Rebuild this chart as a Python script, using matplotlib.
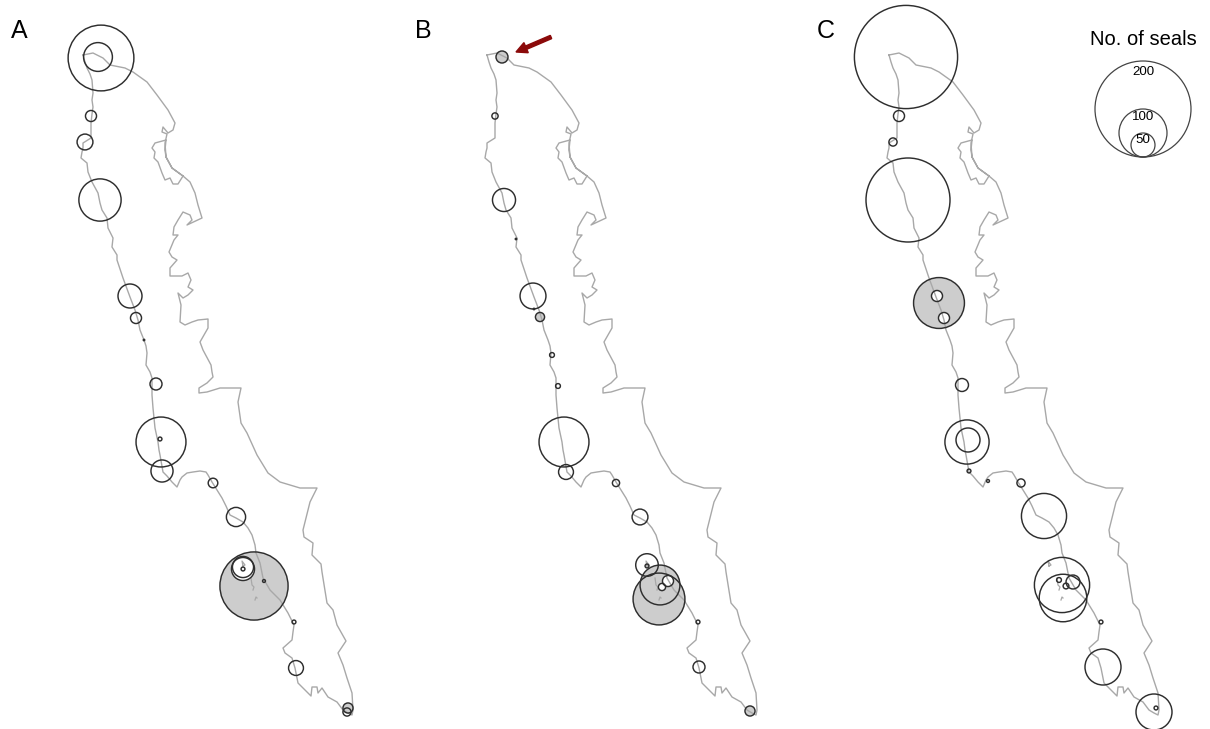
import matplotlib
matplotlib.use('Agg')
import matplotlib.pyplot as plt
from matplotlib.patches import Circle, FancyArrow

plt.rcParams['font.family'] = ['Liberation Sans', 'DejaVu Sans']

# coastline traced in panel A, pixel-like map units
coast_x = [83, 85, 87, 90, 92, 93, 92, 93, 92, 91, 91, 91, 83, 83, 82, 81, 87, 88, 92, 98, 100, 102, 107, 108, 113, 112,
           117, 117, 123, 130, 135, 138, 140, 144, 146, 147, 146, 150, 152, 152, 153, 154, 155, 158, 159, 160,
           163, 167, 172, 177, 180, 182, 187, 193, 200, 206, 208, 212, 217, 222, 226, 230, 236, 243, 248, 252, 255, 256,
           260, 263, 270, 280, 288, 294, 293, 292, 283, 285, 292, 295, 298, 307, 311, 312, 317, 318, 322, 328, 337,
           343, 348, 352, 353, 352, 347, 343, 338, 346, 337, 333, 327, 322, 321, 312, 313, 304, 303, 305,
           310, 317, 300, 280, 268, 257, 247, 241, 238, 241, 220, 207, 199, 199, 207, 213, 212, 211, 203, 200, 204, 208,
           208, 198, 192, 185, 180, 181, 178, 183, 188, 193, 188, 191, 188, 182, 170, 170, 177, 172, 169, 174, 178, 173,
           174, 178, 183, 190, 192, 187, 202, 198, 195, 190, 183, 178, 173, 170, 165, 162, 158, 154, 155, 152, 155, 166,
           165, 166, 172, 183, 172, 166, 165, 167, 162, 163, 168, 173, 175, 168, 157, 147, 133, 125, 110, 103, 93, 83]
coast_y = [55, 62, 68, 74, 80, 93, 100, 107, 114, 123, 130, 138, 143, 148, 152, 158, 163, 172, 182, 193, 203, 210, 218, 228,
           238, 247, 255, 260, 278, 297, 310, 320, 330, 340, 346, 353, 365, 372, 378, 395, 408, 418, 428, 442,
           450, 455, 472, 476, 482, 487, 480, 477, 473, 472, 471, 472, 475, 482, 490, 498, 506, 515, 518, 522, 528, 535,
           545, 553, 563, 578, 590, 600, 613, 625, 632, 640, 648, 653, 658, 668, 683, 692, 696, 687, 687, 693, 688, 697,
           702, 710, 713, 715, 710, 693, 678, 665, 653, 641, 625, 610, 603, 572, 564, 555, 543, 537,
           530, 522, 502, 488, 488, 482, 473, 455, 433, 423, 402, 388, 388, 392, 393, 388, 383, 377, 372, 365, 350, 342, 335,
           328, 319, 320, 322, 325, 322, 305, 293, 298, 295, 290, 287, 280, 273, 276, 276, 268, 260, 257, 252, 240, 235, 235,
           227, 220, 212, 215, 220, 225, 218, 205, 193, 182, 176, 184, 184, 178, 180, 173, 162, 158, 152, 148, 143, 140,
           150, 157, 168, 176, 168, 157, 143, 134, 132, 127, 133, 130, 123, 110, 95, 82, 72, 68, 65, 58, 53, 55]
island_x = [[243, 242, 245, 243], [251, 252, 254, 253], [255, 256, 257]]
island_y = [[566, 561, 565, 566], [578, 585, 587, 590], [600, 597, 598]]

# sites per panel: map position and number of seals
a_x = [101, 98, 91, 85, 100, 130, 136, 144, 156, 161, 160, 162, 213, 236, 254, 243, 243, 243, 264, 294, 296, 348, 347]
a_y = [58, 57, 116, 142, 200, 296, 318, 340, 384, 442, 439, 471, 483, 517, 586, 569, 567, 569, 581, 622, 668, 708, 712]
a_seals = [137, 60, 23, 33, 88, 50, 23, 3, 25, 104, 8, 46, 20, 40, 142, 48, 44, 8, 6, 8, 31, 21, 17]
a_grey = [14, 21]
a_white = [15, 16, 17]

b_x = [502, 495, 504, 533, 540, 552, 558, 564, 566, 616, 640, 647, 647, 659, 660, 668, 662, 698, 699, 750, 516, 534]
b_y = [57, 116, 200, 296, 317, 355, 386, 442, 472, 483, 517, 565, 566, 599, 585, 581, 587, 622, 667, 711, 239, 309]
b_seals = [25, 13, 48, 54, 19, 10, 10, 104, 31, 15, 33, 47, 8, 108, 83, 23, 15, 8, 25, 21, 3, 3]
b_grey = [0, 4, 13, 14, 19]
b_white = [15, 16]

c_x = [906, 899, 893, 908, 939, 937, 944, 962, 967, 968, 969, 988, 1021, 1044, 1062, 1063, 1073, 1066, 1059, 1101, 1103, 1154, 1156]
c_y = [57, 116, 142, 200, 303, 296, 318, 385, 442, 440, 471, 481, 483, 516, 585, 598, 582, 586, 580, 622, 667, 712, 708]
c_seals = [215, 23, 17, 175, 106, 23, 23, 27, 92, 50, 8, 6, 17, 94, 115, 99, 29, 12, 10, 8, 75, 75, 8]
c_grey = [4]
c_white = [5, 6]

panel_labels = ['A', 'B', 'C']
panel_shift = [0, 404, 806]
legend_seals = [200, 100, 50]

px_per_seal = 0.24
edge_col = '#2e2e2e'


def draw_sites(ax, xs, ys, seals, grey, white):
    # fills go under the coast, outlines over it, so overlapping grey circles stay one tone
    for i in grey:
        ax.add_patch(Circle((xs[i], ys[i]), seals[i] * px_per_seal, facecolor='#cdcdcd', edgecolor='none', zorder=1))
    for i in white:
        ax.add_patch(Circle((xs[i], ys[i]), seals[i] * px_per_seal, facecolor='white', edgecolor='none', zorder=2))
    for x, y, n in zip(xs, ys, seals):
        ax.add_patch(Circle((x, y), n * px_per_seal, facecolor='none', edgecolor=edge_col, linewidth=1.05, zorder=5))


fig = plt.figure(figsize=(12.1, 7.29), dpi=100)
ax = fig.add_axes([0, 0, 1, 1])
ax.set_xlim(0, 1210)
ax.set_ylim(729, 0)
ax.axis('off')

for label, shift in zip(panel_labels, panel_shift):
    ax.plot([x + shift for x in coast_x], coast_y, color='#a8a8a8', lw=1.0, zorder=4)
    for ix, iy in zip(island_x, island_y):
        ax.plot([x + shift for x in ix], iy, color='#a8a8a8', lw=0.9, zorder=4)
    ax.text(11 + shift, 31, label, fontsize=18, ha='left', va='center', color='black')

draw_sites(ax, a_x, a_y, a_seals, a_grey, a_white)
draw_sites(ax, b_x, b_y, b_seals, b_grey, b_white)
draw_sites(ax, c_x, c_y, c_seals, c_grey, c_white)

# arrow pointing at the grey site in B
ax.add_patch(FancyArrow(551, 37, -35, 15, width=3.5, head_width=11, head_length=11,
                        length_includes_head=True, color='#8b0a0a', zorder=6))

# size key
key_bottom = 157
for n, ty in zip(legend_seals, [72, 117, 140]):
    r = n * px_per_seal
    ax.add_patch(Circle((1143, key_bottom - r), r, facecolor='none', edgecolor='#444444', linewidth=0.9))
    ax.text(1143, ty, str(n), fontsize=9.6, ha='center', va='center')
ax.text(1143, 39, 'No. of seals', fontsize=14.5, ha='center', va='center')

fig.savefig('out.png', dpi=100)
